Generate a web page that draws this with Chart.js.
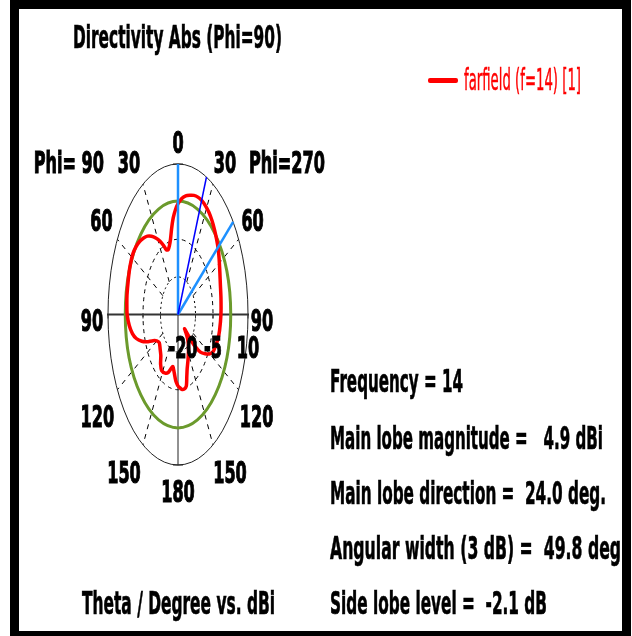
<!DOCTYPE html>
<html>
<head>
<meta charset="utf-8">
<script src="https://cdn.jsdelivr.net/npm/chart.js@4.4.1/dist/chart.umd.min.js"></script>
<style>
  html, body { margin: 0; padding: 0; background: #fff; }
  body { width: 632px; height: 636px; position: relative; overflow: hidden; font-family: "DejaVu Sans", sans-serif; }
  #polar { position: absolute; left: 0; top: 0; }
  .frame { position: absolute; left: 10px; top: 0; width: 621px; height: 640px; box-sizing: border-box; border: 9px solid #000; pointer-events: none; }
  .txt { position: absolute; white-space: pre; font-weight: bold; font-size: 32px; line-height: 1; transform-origin: 0 0; color: #000; -webkit-text-stroke: 0.7px #000; }
  .legend-line { position: absolute; left: 428px; top: 78px; width: 30px; height: 5px; background: #ff0000; border-radius: 2px; }
</style>
</head>
<body>
<canvas id="polar" width="632" height="636"></canvas>

<div class="txt" data-w="209" style="left:73px; top:21px;">Directivity Abs (Phi=90)</div>
<div class="legend-line"></div>
<div class="txt" data-w="117" style="left:464px; top:65px; font-size:30px; font-weight:normal; color:#ff0000; -webkit-text-stroke:0.5px #ff0000;">farfield (f=14) [1]</div>

<div class="txt" data-w="133" style="left:330px; top:365px;">Frequency = 14</div>
<div class="txt" data-w="273" style="left:330px; top:422px;">Main lobe magnitude =   4.9 dBi</div>
<div class="txt" data-w="276" style="left:330px; top:477px;">Main lobe direction =  24.0 deg.</div>
<div class="txt" data-w="297" style="left:330px; top:532px;">Angular width (3 dB) =  49.8 deg.</div>
<div class="txt" data-w="217" style="left:330px; top:587px;">Side lobe level =  -2.1 dB</div>
<div class="txt" data-w="193" style="left:82px; top:587px;">Theta / Degree vs. dBi</div>

<div class="frame"></div>

<script>
// theta in degrees, clockwise from top (right half = Phi 270, left half = Phi 90)
const thetaDeg = [
  -180, -176, -172, -168, -164, -160, -155, -148, -143, -138, -132, -125, -120, -116, -112, -109, -105, -101, -96, -90,
  -85, -80, -72, -65, -58, -53, -48, -44, -40, -36, -32, -28, -24, -21, -18, -15, -12, -9, -6, -3,
  0, 4, 8, 12, 16, 20, 24, 28, 33, 38, 43, 48, 53, 58, 65, 72, 80, 90,
  100, 106, 111, 116, 120, 124, 128, 131, 133, 135, 137, 140, 145, 150, 155, 160, 163, 166, 170, 174, 177, 180
];
const directivityDbi = [
  -5.7, -6.7, -8.3, -9.4, -8.7, -7.7, -7.1, -6.8, -7.6, -9.0, -9.7, -10.2, -9.5, -8.1, -5.5, -3.6, -1.5, -0.1, 1.0, 1.8,
  2.0, 2.2, 2.4, 2.7, 2.8, 2.5, 1.9, 1.2, 0.4, -0.7, -2.0, -3.4, -5.0, -6.2, -6.4, -5.8, -4.6, -2.6, -0.6, 0.9,
  2.1, 3.2, 3.9, 4.3, 4.7, 4.9, 4.9, 4.7, 4.3, 3.7, 3.0, 2.3, 1.6, 0.8, -0.2, -0.9, -1.3, -1.6,
  -1.9, -2.2, -2.7, -3.2, -4.3, -6.0, -7.8, -10.3, -13.2, -16.0, -15.0, -13.5, -12.1, -11.1, -9.9, -8.5, -7.1, -5.3, -4.9, -5.0, -5.4, -5.7
];

const rMin = -20;
const rMax = 10;
const radialTicks = [-20, -5, 10];
const gridLevels = [-12.5, -5, 2.5];
const thetaTicks = [0, 30, 60, 90, 120, 150, 180];
const spokeAngles = [30, 60, 120, 150, -30, -60, -120, -150];
const threeDbLevel = 2.6;
const mainLobeDir = 24;
const beamEdges = [0, 52];

function norm(db) {
  return (db - rMin) / (rMax - rMin);
}
function toXY(theta, db) {
  const r = norm(db);
  const a = theta * Math.PI / 180;
  return { x: r * Math.sin(a), y: r * Math.cos(a) };
}

const pattern = thetaDeg.map((t, i) => toXY(t, directivityDbi[i]));
pattern.push(pattern[0]);

function ray(theta) {
  return [toXY(theta, rMin), toXY(theta, rMax)];
}

const labelPad = { 0: [0, -22], 30: [12, -22], 60: [14, -19], 90: [14, 5], 120: [18, 26], 150: [17, 27], 180: [0, 26] };

const polarDecor = {
  id: 'polarDecor',
  beforeDatasetsDraw(chart) {
    const { ctx } = chart;
    const xs = chart.scales.x, ys = chart.scales.y;
    const cx = xs.getPixelForValue(0), cy = ys.getPixelForValue(0);
    const Rx = xs.getPixelForValue(1) - cx, Ry = cy - ys.getPixelForValue(1);
    ctx.save();

    // dashed rings
    ctx.strokeStyle = '#000';
    ctx.lineWidth = 1;
    gridLevels.forEach((lv, i) => {
      const r = norm(lv);
      ctx.setLineDash(i === 0 ? [2, 3] : [4, 4]);
      ctx.beginPath();
      ctx.ellipse(cx, cy, Rx * r, Ry * r, 0, 0, Math.PI * 2);
      ctx.stroke();
    });

    // dashed spokes
    ctx.setLineDash([5, 5]);
    spokeAngles.forEach(t => {
      const a = t * Math.PI / 180;
      const r0 = norm(gridLevels[0]);
      ctx.beginPath();
      ctx.moveTo(cx + Rx * r0 * Math.sin(a), cy - Ry * r0 * Math.cos(a));
      ctx.lineTo(cx + Rx * Math.sin(a), cy - Ry * Math.cos(a));
      ctx.stroke();
    });
    ctx.setLineDash([]);

    // outer ring
    ctx.strokeStyle = '#222';
    ctx.lineWidth = 1;
    ctx.beginPath();
    ctx.ellipse(cx, cy, Rx, Ry, 0, 0, Math.PI * 2);
    ctx.stroke();

    // vertical axis
    ctx.beginPath();
    ctx.moveTo(cx, cy - Ry);
    ctx.lineTo(cx, cy + Ry);
    ctx.stroke();
    ctx.beginPath();
    ctx.moveTo(cx - 5, cy - Ry); ctx.lineTo(cx + 5, cy - Ry);
    ctx.moveTo(cx - 5, cy + Ry); ctx.lineTo(cx + 5, cy + Ry);
    ctx.stroke();

    // horizontal axis with ticks
    ctx.strokeStyle = '#333';
    ctx.lineWidth = 2;
    ctx.beginPath();
    ctx.moveTo(cx - Rx - 1, cy);
    ctx.lineTo(cx + Rx + 1, cy);
    ctx.stroke();
    ctx.lineWidth = 1;
    ctx.beginPath();
    [0.25, 0.5, 0.75, 1].forEach(f => {
      ctx.moveTo(cx + Rx * f, cy); ctx.lineTo(cx + Rx * f, cy + 4);
      ctx.moveTo(cx - Rx * f, cy); ctx.lineTo(cx - Rx * f, cy + 4);
    });
    ctx.stroke();

    // 3 dB ring
    const g = norm(threeDbLevel);
    ctx.strokeStyle = '#6b9a2c';
    ctx.lineWidth = 3;
    ctx.beginPath();
    ctx.ellipse(cx, cy, Rx * g, Ry * g, 0, 0, Math.PI * 2);
    ctx.stroke();
    ctx.restore();
  },
  afterDraw(chart) {
    const { ctx } = chart;
    const xs = chart.scales.x, ys = chart.scales.y;
    const cx = xs.getPixelForValue(0), cy = ys.getPixelForValue(0);
    const Rx = xs.getPixelForValue(1) - cx, Ry = cy - ys.getPixelForValue(1);
    const sx = 0.52;
    ctx.save();
    ctx.fillStyle = '#000';
    ctx.strokeStyle = '#000';
    ctx.lineWidth = 1.2;
    ctx.font = 'bold 31px "DejaVu Sans"';
    ctx.textBaseline = 'alphabetic';

    function put(text, x, y, align) {
      ctx.save();
      ctx.translate(x, y + 11);
      ctx.scale(sx, 1);
      ctx.textAlign = align || 'center';
      ctx.fillText(text, 0, 0);
      ctx.strokeText(text, 0, 0);
      ctx.restore();
    }

    const pos = {};
    thetaTicks.forEach(t => {
      const a = t * Math.PI / 180;
      const pad = labelPad[t];
      const sides = (t === 0 || t === 180) ? [1] : [1, -1];
      sides.forEach(s => {
        const x = cx + s * Rx * Math.sin(a) + s * (s < 0 ? pad[0] + 2 : pad[0]);
        const y = cy - Ry * Math.cos(a) + pad[1];
        pos[s * t] = [x, y];
        put(String(t), x, y);
      });
    });
    put('Phi= 90', pos[-30][0] - 25, pos[-30][1], 'right');
    put('Phi=270', pos[30][0] + 24, pos[30][1], 'left');

    radialTicks.forEach((v, i) => {
      const px = xs.getPixelForValue(norm(v));
      put(String(v), px + (i === 0 ? 5 : 0), cy + 32);
    });
    ctx.restore();
  }
};

new Chart(document.getElementById('polar').getContext('2d'), {
  type: 'scatter',
  data: {
    datasets: [
      {
        label: 'main lobe',
        data: ray(mainLobeDir),
        showLine: true,
        borderColor: '#0000ff',
        borderWidth: 1.5,
        pointRadius: 0
      },
      {
        label: '3 dB edge 1',
        data: ray(beamEdges[0]),
        showLine: true,
        borderColor: '#1e90ff',
        borderWidth: 2.5,
        pointRadius: 0
      },
      {
        label: '3 dB edge 2',
        data: ray(beamEdges[1]),
        showLine: true,
        borderColor: '#1e90ff',
        borderWidth: 2.5,
        pointRadius: 0
      },
      {
        label: 'farfield (f=14) [1]',
        data: pattern,
        showLine: true,
        borderColor: '#ff0000',
        borderWidth: 3.5,
        pointRadius: 0,
        tension: 0.25
      }
    ]
  },
  options: {
    responsive: false,
    animation: false,
    layout: { padding: { left: 108, right: 384, top: 164, bottom: 171 } },
    scales: {
      x: { type: 'linear', min: -1, max: 1, display: false },
      y: { type: 'linear', min: -1, max: 1, display: false }
    },
    plugins: {
      legend: { display: false },
      tooltip: { enabled: false }
    }
  },
  plugins: [polarDecor]
});

document.querySelectorAll('.txt').forEach(el => {
  const w = el.getBoundingClientRect().width;
  el.style.transform = 'scaleX(' + (parseFloat(el.dataset.w) / w) + ')';
});
</script>
</body>
</html>
